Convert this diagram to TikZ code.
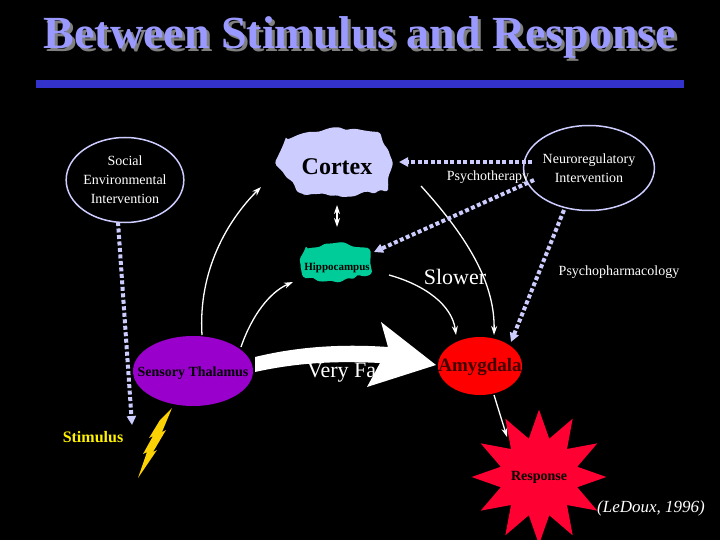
\documentclass[tikz,border=0pt]{standalone}
\usepackage{fontspec}
\setmainfont{Liberation Serif}
\usetikzlibrary{arrows.meta,shapes.geometric,decorations.pathmorphing,positioning}
\definecolor{lav}{HTML}{CCCCFF}
\definecolor{titleblue}{HTML}{9999FF}
\definecolor{barblue}{HTML}{3333CC}
\definecolor{hipgreen}{HTML}{00CC99}
\definecolor{thalpurple}{HTML}{9900CC}
\definecolor{respred}{HTML}{FF0033}
\tikzset{
  ring/.style={ellipse, draw=lav, line width=1.5pt, minimum width=114pt, minimum height=85pt, align=center, text=white, font=\fontsize{14}{19}\selectfont, inner sep=0pt},
  blob/.style={decorate, decoration={random steps, segment length=6pt, amplitude=2.5pt}, rounded corners=3pt},
  path/.style={->, >={Stealth[length=9pt,width=6pt]}, white, line width=1.3pt},
  dots/.style={->, >={Triangle[length=9pt,width=9pt]}, lav, line width=4pt, dash pattern=on 4pt off 2.5pt},
  label/.style={text=white, font=\fontsize{14}{16}\selectfont}
}
\begin{document}
\begin{tikzpicture}[x=1pt,y=-1pt]
    \fill[black] (0,0) rectangle (720,540);
    \useasboundingbox (0,0) rectangle (720,540);

    % title
    \node[text=gray, font=\bfseries\fontsize{46}{50}\selectfont] at (363,40) {Between Stimulus and Response};
    \node[text=titleblue, font=\bfseries\fontsize{46}{50}\selectfont] (title) at (360,37) {Between Stimulus and Response};
    \fill[barblue] (36,80) rectangle (684,88);

    % blobs
    \fill[lav, blob] (285,140) -- (330,128) -- (378,132) -- (392,160) -- (388,190) -- (345,197) -- (300,193) -- (276,165) -- cycle;
    \node[font=\bfseries\fontsize{24}{28}\selectfont] (cortex) at (337,167) {Cortex};
    \fill[hipgreen, blob] (305,249) -- (335,243) -- (368,248) -- (372,272) -- (340,282) -- (305,278) -- (300,262) -- cycle;
    \node[font=\bfseries\fontsize{11}{13}\selectfont] (hippo) at (337,268) {Hippocampus};

    % nodes
    \node[ring] (social) at (125,180) {Social\\Environmental\\Intervention};
    \node[ring] (neuro) at (589,168) {Neuroregulatory\\Intervention};
    \fill[thalpurple] (193,371) ellipse [x radius=60, y radius=35];
    \node[font=\bfseries\fontsize{14}{16}\selectfont] (thal) at (193,373) {Sensory Thalamus};
    \fill[red] (480,366) ellipse [x radius=42, y radius=29];
    \node[text=black!75!red, font=\bfseries\fontsize{19}{21}\selectfont] (amyg) at (480,367) {Amygdala};
    \node[star, star points=12, star point ratio=1.7, fill=respred, minimum size=118pt, inner sep=0pt, font=\bfseries\fontsize{14}{16}\selectfont] (resp) at (539,477) {Response};
    \node[text=yellow, font=\bfseries\fontsize{16}{18}\selectfont] (stim) at (93,437) {Stimulus};
    \fill[yellow!70!orange] (172,408) -- (162,432) -- (166,430) -- (153,452) -- (157,450) -- (138,478) -- (147,452) -- (143,454) -- (153,436) -- (149,438) -- (160,420) -- cycle;

    % labels
    \node[label] (psyth) at (488,177) {Psychotherapy};
    \node[label] (psyph) at (619,272) {Psychopharmacology};
    \node[text=white, font=\fontsize{22}{24}\selectfont] (slow) at (455,277) {Slower};
    \node[text=white, font=\fontsize{22}{24}\selectfont] (fast) at (349,373) {Very Fast};
    \node[text=white, font=\itshape\fontsize{17}{19}\selectfont] (ref) at (651,508) {(LeDoux, 1996)};

    % pathways
    \fill[white] (255,357) .. controls (300,346) and (345,344) .. (388,347) -- (381,322) -- (436,365) -- (367,387) -- (380,363) .. controls (340,361) and (300,362) .. (255,372) -- cycle;
    \draw[path] (202,335) .. controls (198,270) and (228,220) .. (261,187);
    \draw[path] (241,347) .. controls (252,315) and (270,292) .. (293,282);
    \draw[path, <->] (337,205) -- (337,227);
    \draw[path] (421,186) .. controls (470,240) and (495,285) .. (494,335);
    \draw[path] (389,275) .. controls (425,285) and (452,305) .. (456,335);
    \draw[path] (494,395) -- (507,437);

    % interventions
    \draw[dots] (532,162) -- (399,162);
    \draw[dots] (534,180) -- (374,252);
    \draw[dots] (564,210) -- (511,342);
    \draw[dots] (118,222) -- (132,425);
\end{tikzpicture}
\end{document}
